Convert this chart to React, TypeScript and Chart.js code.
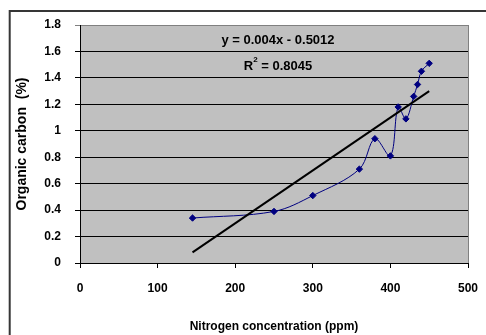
import React, { useEffect, useRef } from "react";
import { Chart, registerables } from "chart.js";

Chart.register(...registerables);

const nitrogenPpm = [145, 250, 300, 360, 380, 400, 410, 420, 430, 435, 440, 450];
const organicCarbon = [0.34, 0.39, 0.51, 0.71, 0.94, 0.81, 1.18, 1.09, 1.26, 1.35, 1.45, 1.51];
const trendX = [145, 450];
const trendY = [0.08, 1.3];
const equationText = "y = 0.004x - 0.5012";
const rSquaredValue = "0.8045";
const xTitle = "Nitrogen concentration (ppm)";
const yTitle = "Organic carbon  (%)";

const FONT = "Arial, 'Liberation Sans', sans-serif";

const framePlugin = {
  id: "framePlugin",
  beforeDraw(chart: any) {
    const { ctx, chartArea: a } = chart;
    ctx.save();
    ctx.fillStyle = "#ffffff";
    ctx.fillRect(0, 0, chart.width, chart.height);
    ctx.fillStyle = "#C0C0C0";
    ctx.fillRect(a.left, a.top, a.right - a.left, a.bottom - a.top);
    ctx.strokeStyle = "#363636";
    ctx.lineWidth = 2;
    ctx.strokeRect(9.7, 11, chart.width + 10, chart.height + 10);
    ctx.restore();
  },
  beforeDatasetsDraw(chart: any) {
    const { ctx, chartArea: a } = chart;
    ctx.save();
    ctx.strokeStyle = "#808080";
    ctx.lineWidth = 1;
    ctx.beginPath();
    ctx.moveTo(a.right + 0.5, a.top);
    ctx.lineTo(a.right + 0.5, a.bottom);
    ctx.stroke();
    ctx.restore();
  },
  afterDatasetsDraw(chart: any) {
    const { ctx } = chart;
    const cx = 278;
    ctx.save();
    ctx.fillStyle = "#000";
    ctx.textBaseline = "middle";
    ctx.font = `bold 13px ${FONT}`;
    ctx.textAlign = "center";
    ctx.fillText(equationText, cx, 40);
    ctx.textAlign = "left";
    const big = `bold 13px ${FONT}`;
    const small = `bold 8px ${FONT}`;
    ctx.font = big;
    const wR = ctx.measureText("R").width;
    const rest = " = " + rSquaredValue;
    const wRest = ctx.measureText(rest).width;
    ctx.font = small;
    const w2 = ctx.measureText("2").width;
    const total = wR + w2 + wRest;
    let x = cx - total / 2;
    const y = 66;
    ctx.font = big;
    ctx.fillText("R", x, y);
    x += wR;
    ctx.font = small;
    ctx.fillText("2", x, y - 6);
    x += w2;
    ctx.font = big;
    ctx.fillText(rest, x, y);
    ctx.restore();
  },
};

export default function App() {
  const canvasRef = useRef<HTMLCanvasElement | null>(null);

  useEffect(() => {
    document.body.style.margin = "0";
    const canvas = canvasRef.current;
    if (!canvas) return;
    const chart = new Chart(canvas, {
      type: "scatter",
      data: {
        datasets: [
          {
            label: "Linear trend",
            data: trendX.map((x, i) => ({ x, y: trendY[i] })),
            showLine: true,
            borderColor: "#000000",
            borderWidth: 2,
            pointRadius: 0,
            tension: 0,
            order: 0,
          },
          {
            label: "Organic carbon",
            data: nitrogenPpm.map((x, i) => ({ x, y: organicCarbon[i] })),
            showLine: true,
            borderColor: "#000080",
            backgroundColor: "#000080",
            borderWidth: 1,
            tension: 0.35,
            pointStyle: "rectRot",
            pointRadius: 3.2,
            pointBackgroundColor: "#000080",
            pointBorderColor: "#000080",
            order: 1,
          },
        ],
      },
      options: {
        responsive: false,
        animation: false,
        devicePixelRatio: 1,
        layout: { padding: { top: 25, right: 18, left: 0, bottom: 0 } },
        plugins: {
          legend: { display: false },
          tooltip: { enabled: false },
        },
        scales: {
          x: {
            type: "linear",
            min: 0,
            max: 500,
            afterFit: (s: any) => {
              s.height = 72;
              s.paddingLeft = 0;
              s.paddingRight = 0;
            },
            ticks: {
              stepSize: 100,
              color: "#000",
              font: { family: FONT, size: 12, weight: "bold" },
              padding: 13,
              maxRotation: 0,
            },
            grid: {
              drawOnChartArea: false,
              drawTicks: true,
              tickLength: 5,
              color: "#000",
            },
            border: { display: true, color: "#000", width: 1 },
            title: {
              display: true,
              text: xTitle,
              color: "#000",
              font: { family: FONT, size: 12, weight: "bold" },
              padding: { top: 4, bottom: 1 },
            },
          },
          y: {
            type: "linear",
            min: 0,
            max: 1.8,
            afterFit: (s: any) => {
              s.width = 80;
              s.paddingTop = 0;
              s.paddingBottom = 0;
            },
            ticks: {
              stepSize: 0.2,
              color: "#000",
              font: { family: FONT, size: 12, weight: "bold" },
              padding: 14,
              callback: (v: any) => String(Number(Number(v).toFixed(1))),
            },
            grid: {
              drawTicks: true,
              tickLength: 5,
              color: (c: any) =>
                c.tick && Math.abs(c.tick.value - 1.8) < 1e-6 ? "#808080" : "#000",
            },
            border: { display: true, color: "#000", width: 1 },
            title: {
              display: true,
              text: yTitle,
              color: "#000",
              font: { family: FONT, size: 14, weight: "bold" },
              padding: { top: 14, bottom: 4 },
            },
          },
        },
      },
      plugins: [framePlugin],
    } as any);
    return () => chart.destroy();
  }, []);

  return (
    <div style={{ width: 486, height: 335 }}>
      <canvas ref={canvasRef} width={486} height={335} style={{ display: "block" }} />
    </div>
  );
}
